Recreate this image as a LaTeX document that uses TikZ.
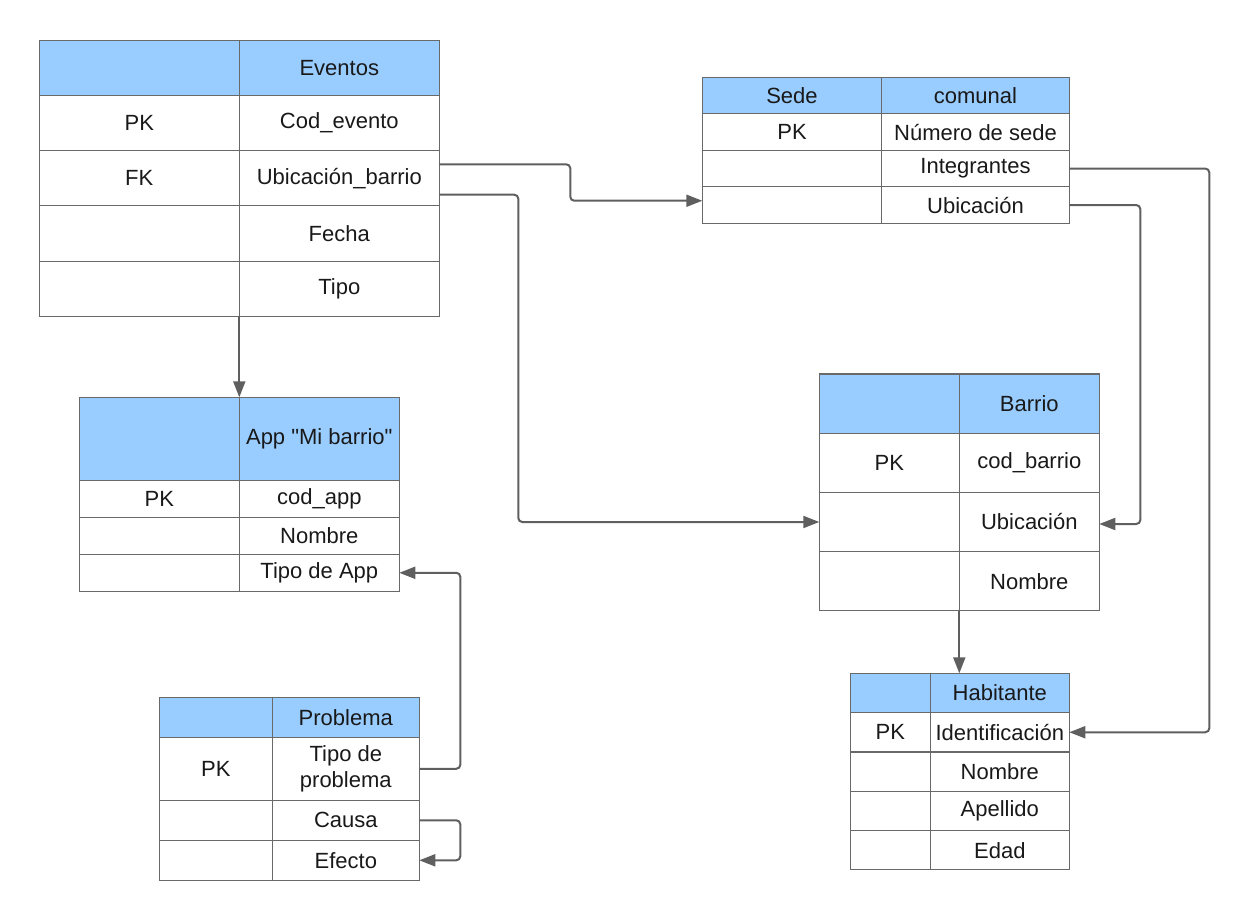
\documentclass[tikz,border=0pt]{standalone}
\usepackage{fontspec}
\setmainfont{Liberation Sans}[Ligatures=TeXOff]
\usetikzlibrary{arrows.meta,positioning}
\definecolor{hdblue}{RGB}{153,204,255}
\definecolor{linegray}{RGB}{95,95,95}
\definecolor{cellgray}{RGB}{105,105,105}

\begin{document}
\begin{tikzpicture}[x=1pt, y=-1pt,
  cell/.style={draw=cellgray, line width=1.2pt, inner sep=0pt, outer sep=0pt, align=center, font=\fontsize{22}{26}\selectfont, text=black!90},
  hd/.style={cell, fill=hdblue},
  ev/.style={minimum width=200pt, minimum height=55.2pt},
  sd1/.style={minimum width=179.4pt, minimum height=36.5pt},
  sd2/.style={minimum width=187.6pt, minimum height=36.5pt},
  ap/.style={minimum width=160pt, minimum height=37pt},
  pr1/.style={minimum width=113pt},
  pr2/.style={minimum width=147pt},
  ba/.style={minimum width=140pt, minimum height=59.2pt},
  ha1/.style={minimum width=80pt, minimum height=39.3pt},
  ha2/.style={minimum width=139pt, minimum height=39.3pt},
  arr/.style={-{Triangle[length=16pt, width=12pt]}, draw=linegray, line width=2pt, rounded corners=4pt}]
\useasboundingbox (0,0) rectangle (1250,920);

% Eventos
\node[hd, ev, anchor=north west] (ev0a) at (39.3,40.3) {};
\node[hd, ev, right=0pt of ev0a] (ev0b) {Eventos};
\node[cell, ev, below=0pt of ev0a] (ev1a) {PK};
\node[cell, ev, right=0pt of ev1a] (ev1b) {Cod\_evento};
\node[cell, ev, below=0pt of ev1a] (ev2a) {FK};
\node[cell, ev, right=0pt of ev2a] (ev2b) {Ubicación\_barrio};
\node[cell, ev, below=0pt of ev2a] (ev3a) {};
\node[cell, ev, right=0pt of ev3a] (ev3b) {Fecha};
\node[cell, ev, below=0pt of ev3a] (ev4a) {};
\node[cell, ev, right=0pt of ev4a] (ev4b) {Tipo};

% Sede comunal
\node[hd, sd1, anchor=north west] (sd0a) at (702.3,77.3) {Sede};
\node[hd, sd2, right=0pt of sd0a] (sd0b) {comunal};
\node[cell, sd1, below=0pt of sd0a] (sd1a) {PK};
\node[cell, sd2, right=0pt of sd1a] (sd1b) {Número de sede};
\node[cell, sd1, below=0pt of sd1a] (sd2a) {};
\node[cell, sd2, right=0pt of sd2a] (sd2b) {Integrantes};
\node[cell, sd1, below=0pt of sd2a] (sd3a) {};
\node[cell, sd2, right=0pt of sd3a] (sd3b) {Ubicación};

% App
\node[hd, ap, minimum height=83pt, anchor=north west] (ap0a) at (79.3,397.3) {};
\node[hd, ap, minimum height=83pt, right=0pt of ap0a] (ap0b) {App "Mi barrio"};
\node[cell, ap, below=0pt of ap0a] (ap1a) {PK};
\node[cell, ap, right=0pt of ap1a] (ap1b) {cod\_app};
\node[cell, ap, below=0pt of ap1a] (ap2a) {};
\node[cell, ap, right=0pt of ap2a] (ap2b) {Nombre};
\node[cell, ap, below=0pt of ap2a] (ap3a) {};
\node[cell, ap, right=0pt of ap3a] (ap3b) {Tipo de App};

% Problema
\node[hd, pr1, minimum height=40pt, anchor=north west] (pr0a) at (159.3,697.3) {};
\node[hd, pr2, minimum height=40pt, right=0pt of pr0a] (pr0b) {Problema};
\node[cell, pr1, minimum height=63pt, below=0pt of pr0a] (pr1a) {PK};
\node[cell, pr2, minimum height=63pt, right=0pt of pr1a] (pr1b) {Tipo de\\problema};
\node[cell, pr1, minimum height=40pt, below=0pt of pr1a] (pr2a) {};
\node[cell, pr2, minimum height=40pt, right=0pt of pr2a] (pr2b) {Causa};
\node[cell, pr1, minimum height=40pt, below=0pt of pr2a] (pr3a) {};
\node[cell, pr2, minimum height=40pt, right=0pt of pr3a] (pr3b) {Efecto};

% Barrio
\node[hd, ba, anchor=north west] (ba0a) at (819.3,374) {};
\node[hd, ba, right=0pt of ba0a] (ba0b) {Barrio};
\node[cell, ba, below=0pt of ba0a] (ba1a) {PK};
\node[cell, ba, right=0pt of ba1a] (ba1b) {cod\_barrio};
\node[cell, ba, below=0pt of ba1a] (ba2a) {};
\node[cell, ba, right=0pt of ba2a] (ba2b) {Ubicación};
\node[cell, ba, below=0pt of ba2a] (ba3a) {};
\node[cell, ba, right=0pt of ba3a] (ba3b) {Nombre};

% Habitante
\node[hd, ha1, anchor=north west] (ha0a) at (850.3,673.3) {};
\node[hd, ha2, right=0pt of ha0a] (ha0b) {Habitante};
\node[cell, ha1, below=0pt of ha0a] (ha1a) {PK};
\node[cell, ha2, right=0pt of ha1a] (ha1b) {Identificación};
\node[cell, ha1, below=0pt of ha1a] (ha2a) {};
\node[cell, ha2, right=0pt of ha2a] (ha2b) {Nombre};
\node[cell, ha1, below=0pt of ha2a] (ha3a) {};
\node[cell, ha2, right=0pt of ha3a] (ha3b) {Apellido};
\node[cell, ha1, below=0pt of ha3a] (ha4a) {};
\node[cell, ha2, right=0pt of ha4a] (ha4b) {Edad};

% relaciones
\draw[arr] (ev4b.south west) -- (ev4b.south west |- ap0b.north);
\draw[arr] ([yshift=14pt]ev2b.east) -- ++(131,0) |- ([yshift=4.3pt]sd3a.west);
\draw[arr] ([yshift=-16.4pt]ev2b.east) -- ++(79,0) |- (ba2a.west);
\draw[arr] (sd2b.east) -- ++(140,0) |- (ha1b.east);
\draw[arr] (sd3b.east) -- ++(71,0) |- ([yshift=-2pt]ba2b.east);
\draw[arr] (ba3a.south east) -- (ba3a.south east |- ha0b.north);
\draw[arr] (pr1b.east) -- ++(41,0) |- (ap3b.east);
\draw[arr] (pr2b.east) -- ++(41,0) |- (pr3b.east);
\end{tikzpicture}
\end{document}
